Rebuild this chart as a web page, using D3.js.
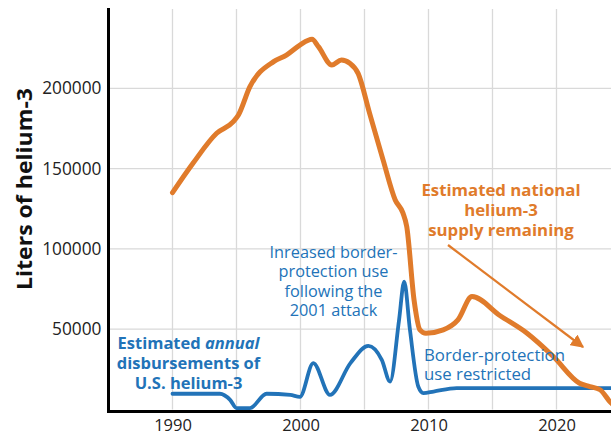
<!DOCTYPE html>
<html><head><meta charset="utf-8">
<script src="https://cdn.jsdelivr.net/npm/d3@7"></script>
<style>
html,body{margin:0;padding:0;background:#fff;}
svg{display:block;font-family:"Open Sans","Noto Sans",sans-serif;}
</style></head>
<body><svg id="c" width="611" height="436"></svg>
<script>
// ---- data ----
const xTicks = [1990, 1995, 2000, 2005, 2010, 2015, 2020];
const xTickLabels = [1990, 2000, 2010, 2020];
const yTicks = [50000, 100000, 150000, 200000];
const supplyYears = [1990, 1991.6, 1993.45, 1994.75, 1995.15, 1996.05, 1997.9, 1998.9, 1999.95, 2000.9, 2001.4, 2002.45, 2003.2, 2003.85, 2004.5, 2005.4, 2006.45, 2007.4, 2008.0, 2008.3, 2008.87, 2009.33, 2009.8, 2011.15, 2012.3, 2013.4, 2015.6, 2017.7, 2019.75, 2021.8, 2022.6, 2023.4, 2024.25, 2025];
const supplyValues = [135000, 153300, 172000, 179200, 183400, 201000, 216600, 220700, 226900, 230500, 225900, 214500, 217600, 215600, 209300, 184400, 155400, 130500, 122400, 113900, 68300, 49600, 47500, 49600, 55800, 70300, 58400, 47500, 33000, 16400, 14300, 12300, 4200, 0];
const disbYears = [1990, 1993.7, 1994.5, 1995.0, 1996.05, 1997.35, 1999.2, 1999.95, 2001.0, 2002.3, 2003.9, 2005.3, 2006.35, 2007.0, 2007.7, 2008.1, 2008.55, 2009.2, 2009.6, 2010.4, 2012.2, 2025];
const disbValues = [9800, 9800, 6000, 900, 900, 9800, 9100, 7900, 28900, 9100, 28900, 39600, 30900, 17400, 55800, 79600, 49600, 14300, 10200, 11200, 13300, 13300];

const orange = "#E07B2B", blue = "#2273B8", grid = "#d9d9d9";

const svg = d3.select("#c");
const x = d3.scaleLinear().domain([1985, 2025]).range([108.5, 620.5]);
const y = d3.scaleLinear().domain([0, 250000]).range([409.5, 8]);

svg.append("defs").append("clipPath").attr("id", "clip")
  .append("rect").attr("x", x(1985)).attr("y", 0).attr("width", 611 - x(1985)).attr("height", y(0) + 2);

// gridlines
const g = svg.append("g");
g.selectAll(".vg").data(xTicks).join("line")
  .attr("x1", d => x(d)).attr("x2", d => x(d)).attr("y1", y(250000) + 1).attr("y2", y(0))
  .attr("stroke", grid).attr("stroke-width", 1.3);
g.selectAll(".hg").data(yTicks).join("line")
  .attr("x1", x(1985)).attr("x2", 611).attr("y1", d => y(d)).attr("y2", d => y(d))
  .attr("stroke", grid).attr("stroke-width", 1.3);

// tick labels via axes
const yAxis = d3.axisLeft(y).tickValues(yTicks).tickSize(0).tickPadding(7).tickFormat(d3.format("d"));
const ya = svg.append("g").attr("transform", `translate(${x(1985)},0)`).call(yAxis);
ya.select(".domain").remove();
ya.selectAll("text").attr("font-size", 17.3).attr("fill", "#222").attr("font-family", "'Open Sans',sans-serif");

const xAxis = d3.axisBottom(x).tickValues(xTickLabels).tickSize(0).tickPadding(8).tickFormat(d3.format("d"));
const xa = svg.append("g").attr("transform", `translate(0,${y(0) + 2})`).call(xAxis);
xa.select(".domain").remove();
xa.selectAll("text").attr("font-size", 16.5).attr("fill", "#222").attr("font-family", "'Open Sans',sans-serif");

// lines
const line = d3.line().curve(d3.curveMonotoneX);
const lg = svg.append("g").attr("clip-path", "url(#clip)");
lg.append("path")
  .attr("d", line(disbYears.map((d, i) => [x(d), y(disbValues[i])])))
  .attr("fill", "none").attr("stroke", blue).attr("stroke-width", 3.8)
  .attr("stroke-linejoin", "round").attr("stroke-linecap", "round");
lg.append("path")
  .attr("d", line(supplyYears.map((d, i) => [x(d), y(supplyValues[i])])))
  .attr("fill", "none").attr("stroke", orange).attr("stroke-width", 5)
  .attr("stroke-linejoin", "round").attr("stroke-linecap", "round");

// axis lines
svg.append("line").attr("x1", x(1985)).attr("x2", x(1985)).attr("y1", y(250000)).attr("y2", y(0) + 3.5)
  .attr("stroke", "#000").attr("stroke-width", 3);
svg.append("line").attr("x1", x(1985) - 1.5).attr("x2", 611).attr("y1", y(0) + 2).attr("y2", y(0) + 2)
  .attr("stroke", "#000").attr("stroke-width", 3);

// y label
svg.append("text").attr("transform", `translate(32,189) rotate(-90)`)
  .attr("text-anchor", "middle").attr("font-size", 22).attr("font-weight", "bold").attr("fill", "#111")
  .attr("textLength", 202).attr("lengthAdjust", "spacingAndGlyphs")
  .text("Liters of helium-3");

// annotations
function multi(lines, cx, cy0, dy, opts) {
  const t = svg.append("text").attr("text-anchor", opts.anchor || "middle")
    .attr("font-size", opts.size).attr("font-weight", opts.weight || "normal").attr("fill", opts.color);
  lines.forEach((l, i) => {
    const ts = t.append("tspan").attr("x", cx).attr("y", cy0 + i * dy).attr("dy", "0.35em");
    if (Array.isArray(l)) {
      l.forEach(p => ts.append("tspan").attr("font-style", p.italic ? "italic" : null).text(p.t));
    } else ts.text(l);
  });
}
multi(["Estimated national", "helium-3", "supply remaining"], 501, 190.5, 20, {size: 16.8, weight: "bold", color: orange});
multi(["Inreased border-", "protection use", "following the", "2001 attack"], 333.5, 252, 19.5, {size: 16.3, color: blue});
multi(["Border-protection", "use restricted"], 424, 355, 19.5, {size: 16.8, color: blue, anchor: "start"});
multi([[{t: "Estimated "}, {t: "annual", italic: true}], "disbursements of", "U.S. helium-3"], 188.5, 343.5, 19.7, {size: 16.5, weight: "bold", color: blue});

// arrow
const defs = svg.select("defs");
defs.append("marker").attr("id", "ah").attr("viewBox", "0 0 10 10").attr("refX", 9).attr("refY", 5)
  .attr("markerWidth", 6).attr("markerHeight", 6).attr("markerUnits", "strokeWidth").attr("orient", "auto")
  .append("path").attr("d", "M0,0 L10,5 L0,10 z").attr("fill", orange);
svg.append("line").attr("x1", 448).attr("y1", 245).attr("x2", 583).attr("y2", 347)
  .attr("stroke", orange).attr("stroke-width", 2.2).attr("marker-end", "url(#ah)");
</script></body></html>
